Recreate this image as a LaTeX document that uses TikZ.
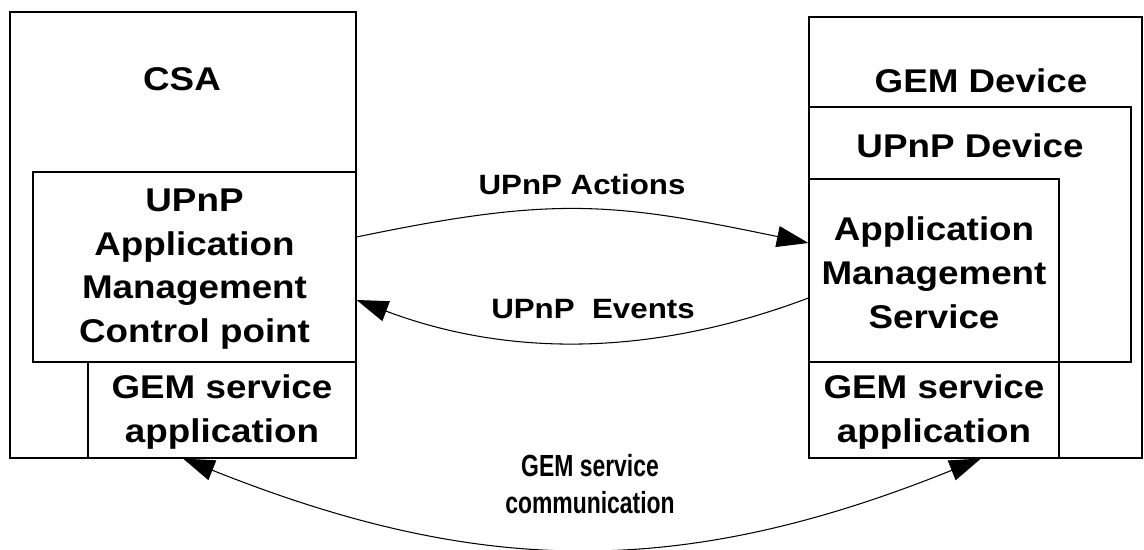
\documentclass[tikz,border=0pt]{standalone}
\usepackage{fontspec}
\setmainfont{Liberation Sans}
\newfontfamily\diagfont{Liberation Sans}[FakeStretch=1.12]
\newfontfamily\commfont{Liberation Sans}[FakeStretch=0.75]
\usetikzlibrary{arrows.meta}
\usetikzlibrary{calc,fit}

\begin{document}
\begin{tikzpicture}[x=0.02cm, y=-0.02cm, >={Triangle[length=18pt,width=12pt]},
        box/.style={draw, line width=0.6pt, inner sep=0pt},
        boxtext/.style={font=\diagfont\bfseries\fontsize{18.7}{24.9}\selectfont, align=center},
        msg/.style={font=\diagfont\bfseries\fontsize{15.9}{19}\selectfont},
        flow/.style={line width=0.6pt}]
        \useasboundingbox (0,0) rectangle (1144,549);
        % CSA side
        \node[box, fit={(10,12) (356,458)}] (csa) {};
        \node[boxtext, anchor=base] (csatext) at (182,90.7) {CSA};
        \node[box, fit={(33,172) (356,362)}] (cp) {};
        \node[boxtext] (cptext) at ([yshift=-0.04cm]cp.center) {UPnP\\Application\\Management\\Control point};
        \node[box, fit={(88,362) (356,458)}] (appL) {};
        \node[boxtext] (appLtext) at ([yshift=-0.04cm]appL.center) {GEM service\\application};
        % GEM device side
        \node[box, fit={(809,17) (1142,458)}] (gemdev) {};
        \node[boxtext, anchor=base] (gemdevtext) at (981,92) {GEM Device};
        \node[box, fit={(809,107) (1131,362)}] (upnpdev) {};
        \node[boxtext, anchor=base] (upnpdevtext) at (970,157) {UPnP Device};
        \node[box, fit={(809,179) (1059,362)}] (ams) {};
        \node[boxtext] (amstext) at ([yshift=-0.04cm]ams.center) {Application\\Management\\Service};
        \node[box, fit={(809,362) (1059,458)}] (appR) {};
        \node[boxtext] (appRtext) at ([yshift=-0.04cm]appR.center) {GEM service\\application};

        % messages
        \draw[flow,->] ([yshift=0.6cm]cp.east) .. controls +(197,-41) and +(-197,-41) .. ([yshift=0.55cm]ams.west);
        \node[msg, anchor=base] (actions) at (582,194) {UPnP Actions};
        \draw[flow,->] ([yshift=-0.55cm]ams.west) .. controls +(-154,58) and +(154,58) .. ([yshift=-0.66cm]cp.east);
        \node[msg, anchor=base] (events) at (593,318) {UPnP\ \ Events};

        \draw[flow,<->] ([xshift=-0.78cm]appL.south) .. controls +(298,119) and +(-298,120) .. ([xshift=0.94cm]appR.south);
        \node[font=\commfont\bfseries\fontsize{17.4}{21.5}\selectfont, align=center] (comm) at (590,484) {GEM service\\communication};
\end{tikzpicture}
\end{document}
